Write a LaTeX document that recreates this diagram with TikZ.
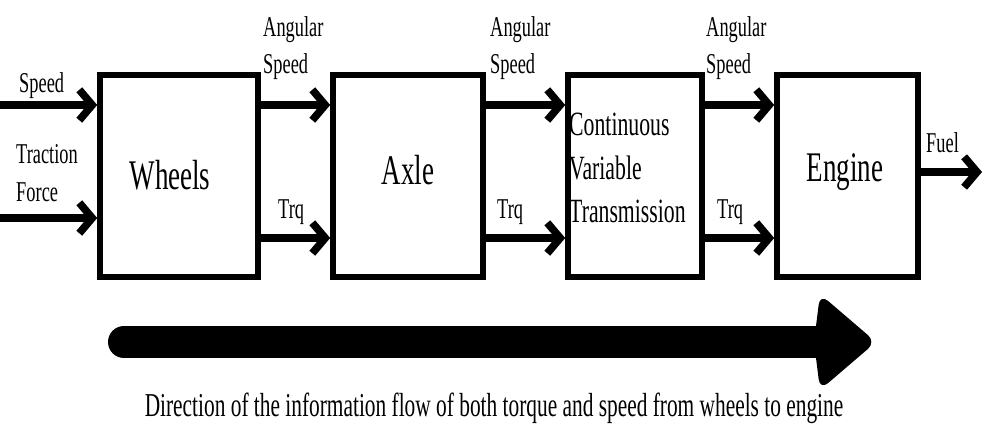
\documentclass[tikz,border=0pt]{standalone}
\usepackage{fontspec}
\setmainfont{Liberation Serif}[FakeStretch=0.64]
\usetikzlibrary{arrows.meta}
\begin{document}
\begin{tikzpicture}[x=0.03cm,y=-0.03cm,
  blockbox/.style={draw, line width=4.8pt, inner sep=0pt, minimum height=6.06cm},
  flow/.style={line width=6.5pt, -{Straight Barb[length=11pt,width=26pt]}},
  lbl/.style={inner sep=0pt, font=\fontsize{24.5}{32}\selectfont, align=left},
  boxlbl/.style={inner sep=0pt, font=\fontsize{36}{40}\selectfont},
  cvtlbl/.style={inner sep=0pt, font=\fontsize{29}{37}\selectfont, align=left},
  caption/.style={inner sep=0pt, font=\fontsize{28.5}{32}\selectfont}]
\useasboundingbox (0,0) rectangle (982,434);
% boxes
\node[blockbox, minimum width=4.74cm] (wheels) at (179,176) {};
\node[blockbox, minimum width=4.5cm] (axle) at (408,176) {};
\node[blockbox, minimum width=4.02cm] (cvt) at (635,176) {};
\node[blockbox, minimum width=4.23cm] (engine) at (847.5,176) {};
% box texts
\node[boxlbl] (twheels) at (170,175) {Wheels};
\node[boxlbl] (taxle) at (408,170) {Axle};
\node[cvtlbl, anchor=west] (tcvt) at (569,168) {Continuous\\Variable\\Transmission};
\node[boxlbl] (tengine) at (845,172) {Engine};
% y levels
\coordinate (ys) at (0,105);
\coordinate (yt) at (0,238);
\coordinate (yin2) at (0,218);
\coordinate (yf) at (0,172);
\coordinate (inspeed) at (0,105);
\coordinate (inforce) at (0,218);
\coordinate (fuelend) at (982,172);
% inputs
\draw[flow] (inspeed) -- (wheels.west |- ys);
\draw[flow] (inforce) -- (wheels.west |- yin2);
% between blocks
\draw[flow] (wheels.east |- ys) -- (axle.west |- ys);
\draw[flow] (wheels.east |- yt) -- (axle.west |- yt);
\draw[flow] (axle.east |- ys) -- (cvt.west |- ys);
\draw[flow] (axle.east |- yt) -- (cvt.west |- yt);
\draw[flow] (cvt.east |- ys) -- (engine.west |- ys);
\draw[flow] (cvt.east |- yt) -- (engine.west |- yt);
% output
\draw[flow] (engine.east |- yf) -- (fuelend);
% labels
\node[lbl, anchor=west] (lspeed) at (19,86) {Speed};
\node[lbl, anchor=west] (lforce) at (16,173) {Traction\\Force};
\node[lbl, anchor=west] (las1) at (263,48) {Angular\\Speed};
\node[lbl, anchor=west] (las2) at (490,48) {Angular\\Speed};
\node[lbl, anchor=west] (las3) at (706,48) {Angular\\Speed};
\node[lbl, anchor=west] (ltrq1) at (278,212) {Trq};
\node[lbl, anchor=west] (ltrq2) at (497,212) {Trq};
\node[lbl, anchor=west] (ltrq3) at (717,212) {Trq};
\node[lbl, anchor=west] (lfuel) at (926,143) {Fuel};
% big direction arrow
\coordinate (flowstart) at (124,342);
\coordinate (flowend) at (824,342);
\draw[line width=0.96cm, line cap=round] (flowstart) -- (flowend);
\fill[rounded corners=9pt] (820,294) -- (876,342) -- (820,390) -- (814,342) -- cycle;
\node[caption] (cap) at (494,408) {Direction of the information flow of both torque and speed from wheels to engine};
\end{tikzpicture}
\end{document}
